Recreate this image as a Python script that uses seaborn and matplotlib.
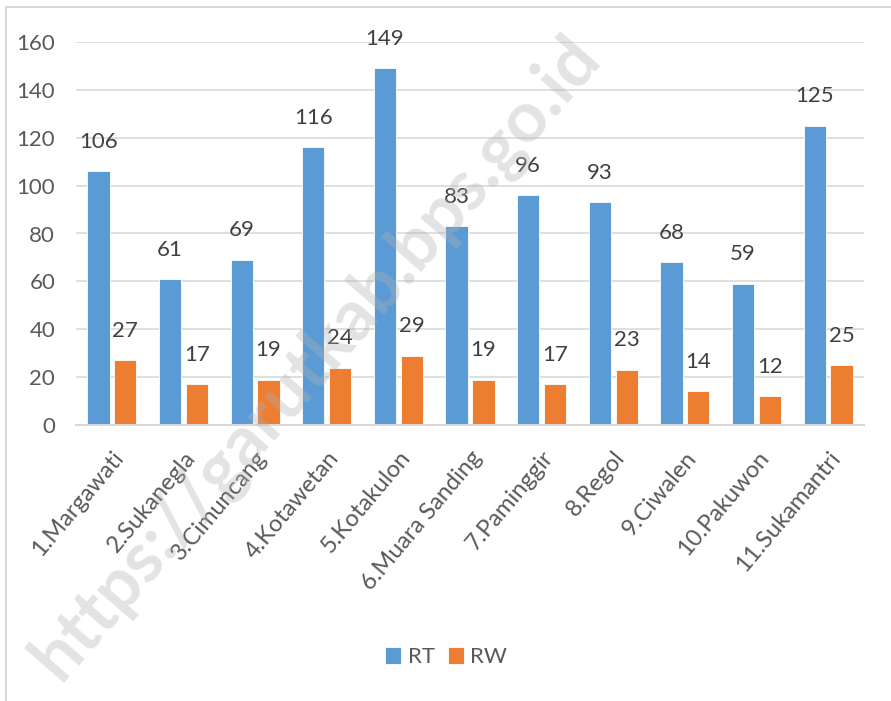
import matplotlib
matplotlib.use("Agg")
import matplotlib.pyplot as plt
import seaborn as sns
import pandas as pd
from matplotlib.patches import Rectangle

categories = ["1.Margawati", "2.Sukanegla", "3.Cimuncang", "4.Kotawetan", "5.Kotakulon",
              "6.Muara Sanding", "7.Paminggir", "8.Regol", "9.Ciwalen", "10.Pakuwon",
              "11.Sukamantri"]
rt_values = [106, 61, 69, 116, 149, 83, 96, 93, 68, 59, 125]
rw_values = [27, 17, 19, 24, 29, 19, 17, 23, 14, 12, 25]
series_names = ["RT", "RW"]
y_ticks = [0, 20, 40, 60, 80, 100, 120, 140, 160]

df = pd.DataFrame({
    "Kelurahan": categories * 2,
    "Jumlah": rt_values + rw_values,
    "Jenis": [series_names[0]] * len(categories) + [series_names[1]] * len(categories),
})

sns.set_theme(style="white")
plt.rcParams["font.family"] = ["Lato", "DejaVu Sans"]
fs = 16

fig = plt.figure(figsize=(8.91, 7.01), dpi=100)
ax = fig.add_axes([76/891, 1-425/701, (864-76)/891, (425-42)/701])

palette = {"RT": "#5B9BD5", "RW": "#ED7D31"}
sns.barplot(data=df, x="Kelurahan", y="Jumlah", hue="Jenis", palette=palette,
            width=0.75, gap=0.17, ax=ax, saturation=1, legend=True,
            edgecolor="#ffffff", linewidth=0.6)

ax.set_ylim(0, 160)
ax.set_xlim(-0.5, len(categories) - 0.5)
ax.set_yticks(y_ticks)
ax.set_yticklabels([str(v) for v in y_ticks], fontsize=fs, color="#595959")
ax.yaxis.grid(True, color="#D9D9D9", linewidth=1.2)
ax.set_axisbelow(True)
for s in ["top", "right", "left"]:
    ax.spines[s].set_visible(False)
ax.spines["bottom"].set_color("#D9D9D9")
ax.spines["bottom"].set_linewidth(1.5)
ax.tick_params(axis="both", length=0)
ax.tick_params(axis="y", pad=15)
ax.tick_params(axis="x", pad=16)
ax.set_xlabel("")
ax.set_ylabel("")
plt.setp(ax.get_xticklabels(), rotation=50, ha="right", rotation_mode="anchor",
         fontsize=fs + 1, color="#595959")

for cont in ax.containers:
    ax.bar_label(cont, padding=14, fontsize=fs, color="#404040")

leg = ax.legend(loc="center", bbox_to_anchor=(0.47, 1-(657-42)/383), ncol=2, frameon=False,
                fontsize=fs, handlelength=0.7, handleheight=0.8, handletextpad=0.3,
                columnspacing=0.6, labelcolor="#595959")

# outer chart border
fig.patches.append(Rectangle((6/891, -0.01), 1.1, 1 - 7/701 + 0.01, transform=fig.transFigure,
                             fill=False, edgecolor="#D9D9D9", linewidth=1.5))

# watermark
fig.text(0.355, 0.49, "https://garutkab.bps.go.id", fontsize=51, fontweight="bold",
         color="#b0b0b0", alpha=0.35, rotation=49, ha="center", va="center")

fig.savefig("out.png", dpi=100)
